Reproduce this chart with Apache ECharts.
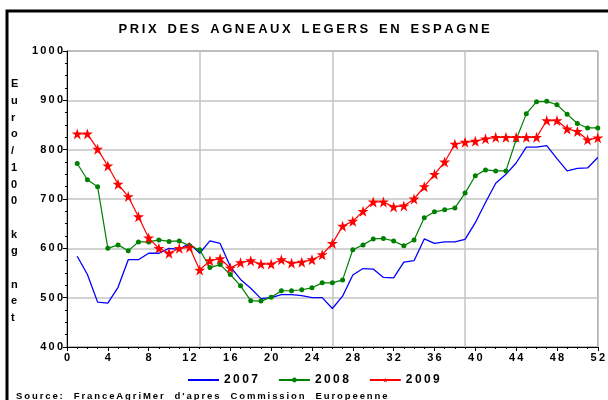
<!DOCTYPE html>
<html><head><meta charset="utf-8">
<script src="https://cdn.jsdelivr.net/npm/echarts@6/dist/echarts.min.js"></script>
<style>html,body{margin:0;padding:0;background:#fff}#c{width:608px;height:400px}</style>
</head><body><div id="c"></div>
<script>
var weeks = [];
for (var i = 1; i <= 52; i++) weeks.push(i);
var y2007 = [584,547,491,489,521,577,577,590,590,600,598,610,590,615,610,563,537,519,498,500,506,506,504,500,500,478,
             503,546,559,558,541,540,572,575,619,610,613,613,618,652,693,732,750,773,805,805,808,782,757,762,763,784];
var y2008 = [772,739,725,600,607,595,613,613,617,614,615,605,597,561,567,547,524,494,493,501,514,514,516,520,530,530,
             536,597,607,619,620,615,605,617,662,674,678,682,712,747,759,757,757,820,873,897,898,891,872,853,844,844];
var y2009 = [832,832,801,767,730,705,664,621,600,590,600,602,556,575,579,560,571,575,568,568,577,570,572,577,587,610,
             645,655,675,694,694,684,686,700,725,750,775,811,815,817,822,825,825,825,825,825,859,859,842,837,820,824];
var seriesNames = ['2007','2008','2009'];
var yTitle = 'Euro/100 kg net';
var titleText = 'PRIX DES AGNEAUX LEGERS EN ESPAGNE';
var sourceText = 'Source:  FranceAgriMer  d\'apres  Commission  Europeenne';

function sp(s){ return String(s).split('').join('\u2009'); }
function pairs(arr){ return arr.map(function(v,i){ return [weeks[i], v]; }); }

var chart = echarts.init(document.getElementById('c'), null, {renderer:'canvas'});
var font = 'Arial, "Liberation Sans", sans-serif';
chart.setOption({
  animation:false,
  title:{text:sp(titleText).replace(/\u2009 \u2009/g,'   '), left:'center', top:18,
    textStyle:{fontFamily:font, fontSize:13, fontWeight:'bold', color:'#000'}},
  grid:{left:67, right:5, top:51, bottom:53, show:true, borderColor:'#555', borderWidth:1},
  legend:{top:369, left:182, itemGap:20, itemWidth:31, itemHeight:6,
    data:[{name:seriesNames[0], itemStyle:{opacity:0}}, seriesNames[1], seriesNames[2]],
    formatter:function(n){return sp(n);},
    textStyle:{fontFamily:font, fontSize:12, fontWeight:'bold', color:'#000'}},
  xAxis:[{type:'value', min:0, max:52, interval:4, position:'bottom',
    axisLine:{lineStyle:{color:'#000', width:1}},
    axisTick:{show:true, length:4, lineStyle:{color:'#000'}},
    minorTick:{show:true, splitNumber:4, length:2, lineStyle:{color:'#000'}},
    axisLabel:{fontFamily:font, fontSize:11, fontWeight:'bold', color:'#000', margin:5, formatter:function(v){return sp(v);}},
    splitLine:{show:false}},
   {type:'value', min:0, max:52, interval:13, position:'bottom',
    axisLine:{show:false}, axisTick:{show:false}, axisLabel:{show:false},
    splitLine:{show:true, lineStyle:{color:'#c4c4c4', width:1.5}}}],
  yAxis:{type:'value', min:400, max:1000, interval:100,
    axisLine:{show:true, lineStyle:{color:'#000'}},
    axisTick:{show:true, length:4, lineStyle:{color:'#000'}},
    minorTick:{show:true, splitNumber:4, length:2, lineStyle:{color:'#000'}},
    axisLabel:{fontFamily:font, fontSize:11, fontWeight:'bold', color:'#000', margin:4, formatter:function(v){return sp(v);}},
    splitLine:{show:true, lineStyle:{color:'#c4c4c4', width:1.5}}},
  graphic:[
    {type:'polyline', shape:{points:[[7,400],[7,11],[608,11]]}, style:{stroke:'#000', lineWidth:3, fill:null}},
    {type:'text', left:11, top:76, style:{text:yTitle.replace(/ /g,'').split('').join('\n').replace('0\nk','0\n\nk').replace('g\nn','g\n\nn'),
      font:'bold 11px Arial, "Liberation Sans", sans-serif', lineHeight:16.7, fill:'#000', align:'left'}},
    {type:'text', left:16, top:391, style:{text:sp(sourceText), font:'bold 9.5px Arial, "Liberation Sans", sans-serif', fill:'#000'}}
  ],
  series:[
    {name:seriesNames[0], type:'line', data:pairs(y2007), showSymbol:false, symbol:'none',
      itemStyle:{color:'#0000ff'}, lineStyle:{color:'#0000ff', width:1.3}},
    {name:seriesNames[1], type:'line', data:pairs(y2008), symbol:'circle', symbolSize:5,
      itemStyle:{color:'#008000'}, lineStyle:{color:'#008000', width:1.2}},
    {name:seriesNames[2], type:'line', data:pairs(y2009),
      symbol:'path://M50,0 L61.8,35.4 L100,35.4 L69.1,57.3 L80.9,95.1 L50,73.2 L19.1,95.1 L30.9,57.3 L0,35.4 L38.2,35.4 Z',
      symbolSize:11, itemStyle:{color:'#ff0000'}, lineStyle:{color:'#ff0000', width:1.2}}
  ]
});
</script></body></html>
